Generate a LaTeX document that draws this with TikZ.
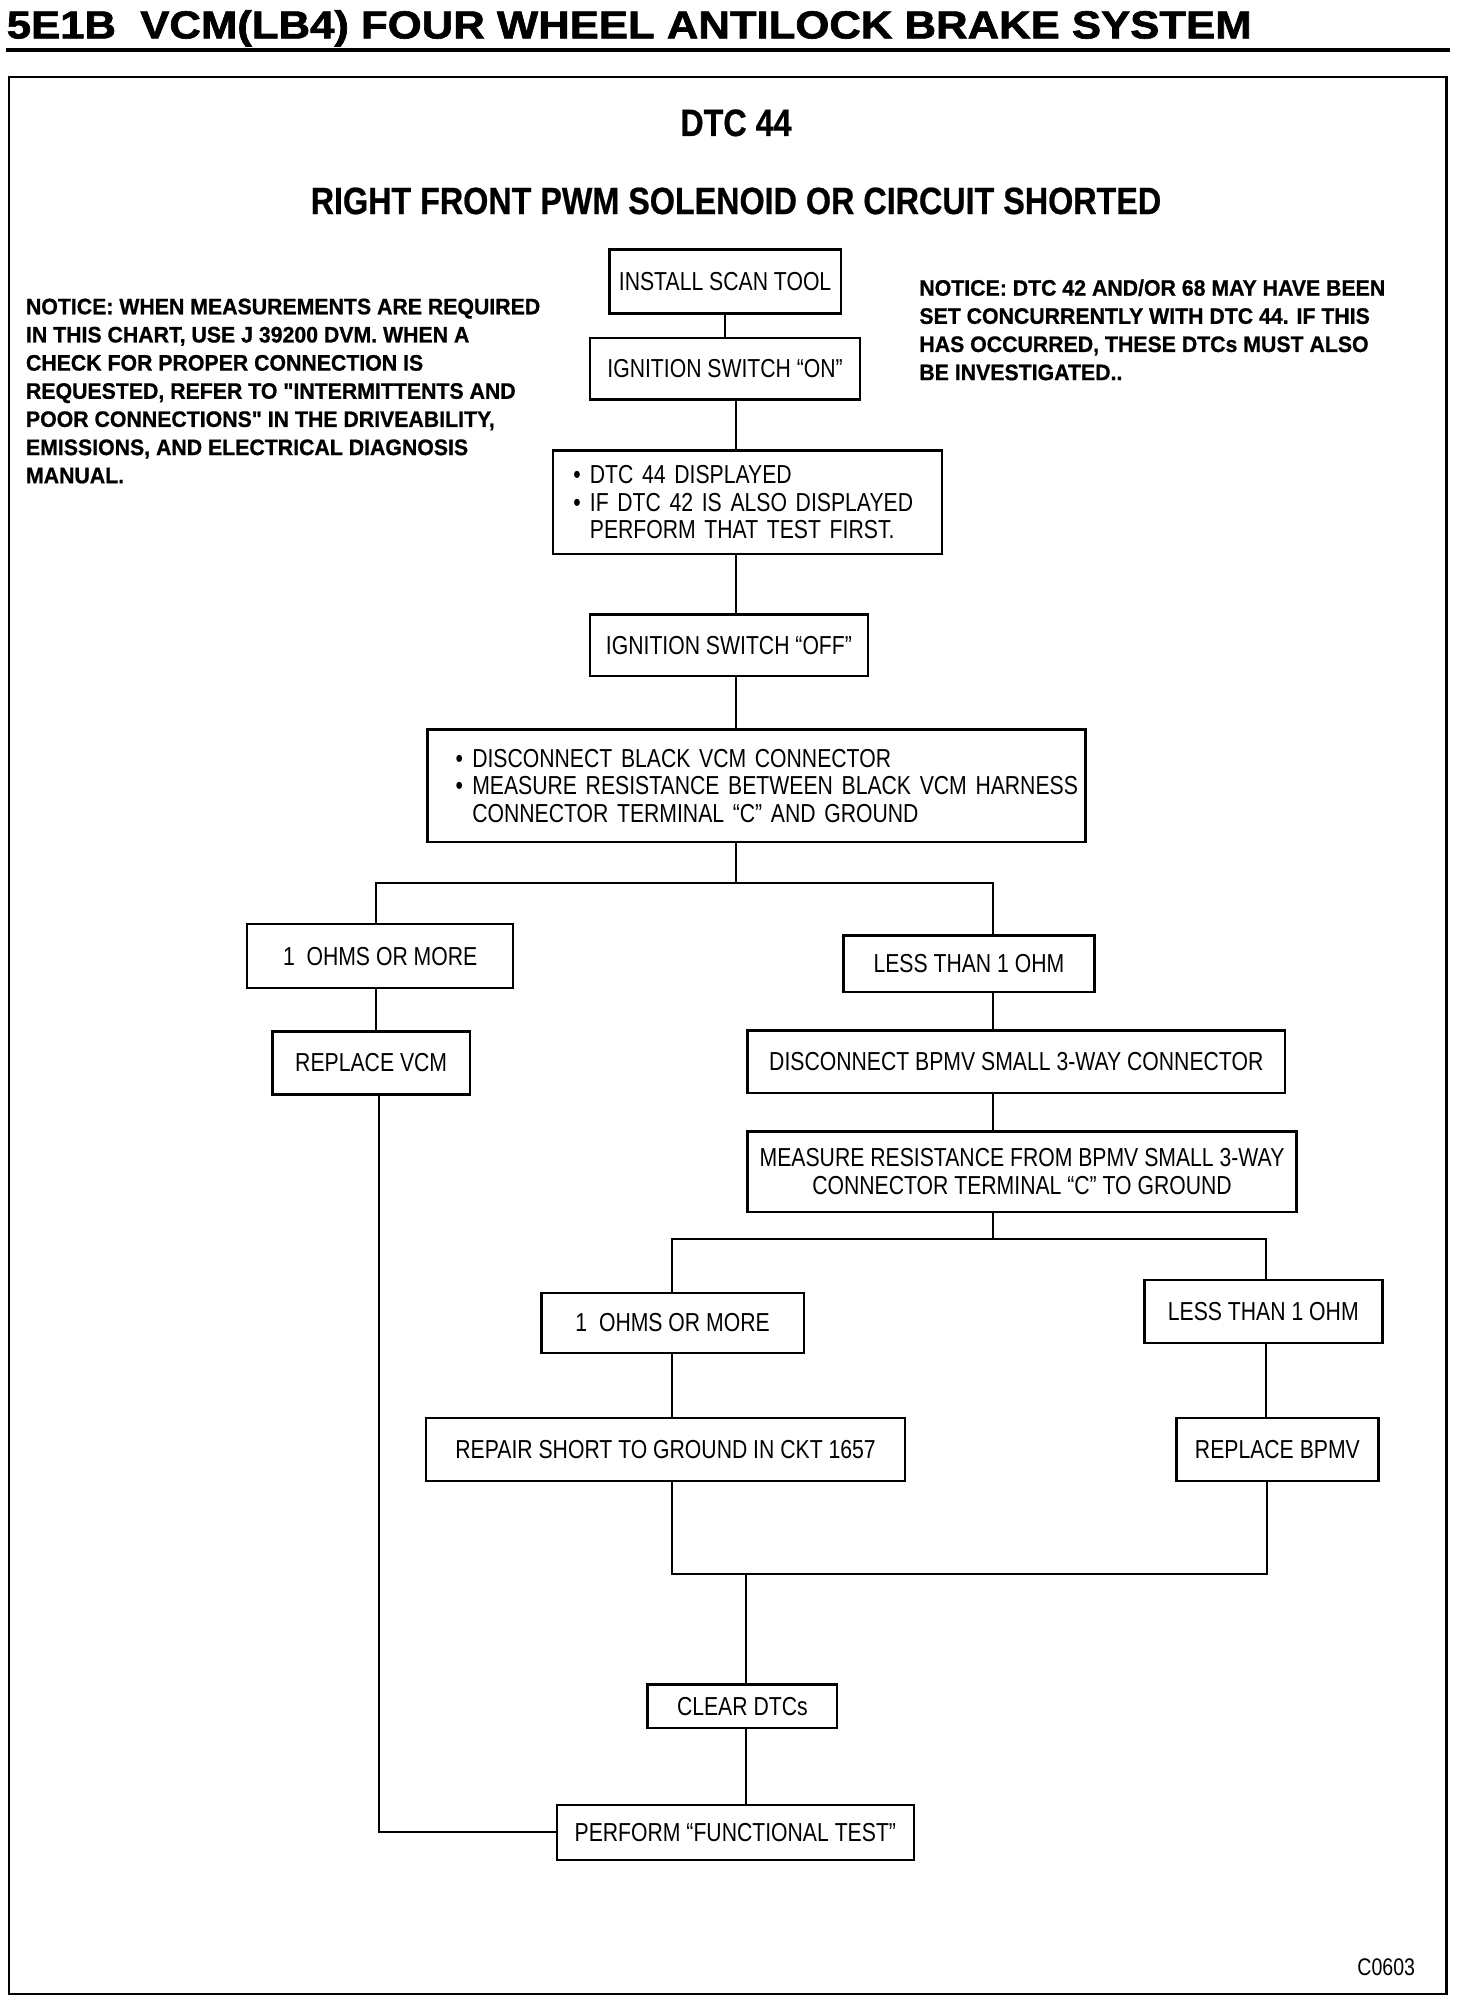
\documentclass[tikz,border=0pt]{standalone}
\usepackage{fontspec}
\usepackage{graphicx}
\setmainfont{Liberation Sans}
\newfontfamily\cond[FakeStretch=0.815]{Liberation Sans}
\newfontfamily\notef[FakeStretch=0.95,FakeBold=0.8]{Liberation Sans Bold}
\newfontfamily\headc[FakeStretch=0.85,FakeBold=0.6]{Liberation Sans Bold}
\newfontfamily\headf[FakeBold=1.6]{Liberation Sans Bold}
\newcommand\bul[1]{\hspace*{#1}\makebox[8.3pt][l]{•}}
\newcommand\ind[1]{\hspace*{#1}\hspace*{8.3pt}}
\begin{document}
\begin{tikzpicture}[x=0.64pt,y=-0.64pt,
  box/.style={draw,line width=1.2pt,inner sep=0pt,font=\cond\fontsize{13}{13.8}\selectfont,align=center},
  lbox/.style={box,inner xsep=0pt,align=left},
  conn/.style={line width=1pt},
  note/.style={anchor=north west,inner sep=0pt,align=left,font=\notef\fontsize{11.2}{14.08}\selectfont},
  head/.style={inner sep=0pt,font=\headc\fontsize{19}{20}\selectfont}]
\useasboundingbox (0,0) rectangle (1150,1561);
\fill[white] (0,0) rectangle (1150,1561);
% title
\node[anchor=base west,inner sep=0pt] (title) at (5,30)
  {\scalebox{1.12}[1]{\headf\fontsize{19.5}{20}\selectfont 5E1B\ \ VCM(LB4) FOUR WHEEL ANTILOCK BRAKE SYSTEM}};
\draw[line width=2.2pt] (5,39) -- (1133,39);
% frame
\draw[line width=1.3pt] (7,60) rectangle (1130,1558);
% headings
\node[head] (dtc) at (575,96) {DTC 44};
\node[head] (rf) at (575,157) {RIGHT FRONT PWM SOLENOID OR CIRCUIT SHORTED};
% notices
\node[note] (noteL) at (20,233) {NOTICE: WHEN MEASUREMENTS ARE REQUIRED\\
IN THIS CHART, USE J 39200 DVM. WHEN A\\
CHECK FOR PROPER CONNECTION IS\\
REQUESTED, REFER TO "INTERMITTENTS AND\\
POOR CONNECTIONS" IN THE DRIVEABILITY,\\
EMISSIONS, AND ELECTRICAL DIAGNOSIS\\
MANUAL.};
\node[note] (noteR) at (718,218) {NOTICE: DTC 42 AND/OR 68 MAY HAVE BEEN\\
SET CONCURRENTLY WITH DTC 44. IF THIS\\
HAS OCCURRED, THESE DTCs MUST ALSO\\
BE INVESTIGATED..};
% boxes
\node[box,minimum width=115.8pt,minimum height=32pt] (install) at (566.5,220) {INSTALL SCAN TOOL};
\node[box,minimum width=135pt,minimum height=30.7pt] (ignon) at (566.5,288) {IGNITION SWITCH “ON”};
\node[lbox,minimum height=51.8pt,text width=194.6pt] (dtcbox) at (584,392.5)
  {\bul{10.2pt}DTC 44 DISPLAYED\\ \bul{10.2pt}IF DTC 42 IS ALSO DISPLAYED\\ \ind{10.2pt}PERFORM THAT TEST FIRST.};
\node[box,minimum width=138.9pt,minimum height=30.7pt] (ignoff) at (569.5,504) {IGNITION SWITCH “OFF”};
\node[lbox,minimum height=56.3pt,text width=329pt] (disc) at (591,614)
  {\bul{14.1pt}DISCONNECT BLACK VCM CONNECTOR\\ \bul{14.1pt}MEASURE RESISTANCE BETWEEN BLACK VCM HARNESS\\ \ind{14.1pt}CONNECTOR TERMINAL “C” AND GROUND};
\node[box,minimum width=133pt,minimum height=32pt] (ohm1) at (297,747) {1\ \ OHMS OR MORE};
\node[box,minimum width=125.4pt,minimum height=28.2pt] (less1) at (757,753) {LESS THAN 1 OHM};
\node[box,minimum width=98.6pt,minimum height=31.4pt] (repvcm) at (290,830.5) {REPLACE VCM};
\node[box,minimum width=268.8pt,minimum height=31.4pt] (discbpmv) at (794,829.5) {DISCONNECT BPMV SMALL 3-WAY CONNECTOR};
\node[box,minimum width=274.6pt,minimum height=40.3pt] (meas) at (798.5,915.5) {MEASURE RESISTANCE FROM BPMV SMALL 3-WAY\\ CONNECTOR TERMINAL “C” TO GROUND};
\node[box,minimum width=131.2pt,minimum height=30pt] (ohm2) at (525.5,1033.5) {1\ \ OHMS OR MORE};
\node[box,minimum width=119pt,minimum height=31.4pt] (less2) at (987,1024.5) {LESS THAN 1 OHM};
\node[box,minimum width=239.4pt,minimum height=31.4pt] (repair) at (520,1132.5) {REPAIR SHORT TO GROUND IN CKT 1657};
\node[box,minimum width=101pt,minimum height=31.4pt] (repbpmv) at (998,1132.5) {REPLACE BPMV};
\node[box,minimum width=94.7pt,minimum height=21.8pt] (clear) at (580,1333) {CLEAR DTCs};
\node[box,minimum width=178.6pt,minimum height=27.5pt] (perform) at (574.5,1431.5) {PERFORM “FUNCTIONAL TEST”};
\node[inner sep=0pt,font=\cond\fontsize{12}{13}\selectfont] (code) at (1083,1537) {C0603};
% connectors
\coordinate (sp) at (575,0);
\draw[conn] (install) -- (ignon);
\draw[conn] (ignon.south -| sp) -- (dtcbox.north -| sp);
\draw[conn] (dtcbox.south -| sp) -- (ignoff.north -| sp);
\draw[conn] (ignoff.south -| sp) -- (disc.north -| sp);
\coordinate (b1) at (575,690);
\coordinate (b1l) at (294,690);
\coordinate (b1r) at (776,690);
\draw[conn] (disc.south -| sp) -- (b1);
\draw[conn] (ohm1.north -| b1l) -- (b1l) -- (b1r) -- (less1.north -| b1r);
\draw[conn] (ohm1.south -| b1l) -- (repvcm.north -| b1l);
\draw[conn] (less1.south -| b1r) -- (discbpmv.north -| b1r);
\draw[conn] (discbpmv.south -| b1r) -- (meas.north -| b1r);
\coordinate (b2) at (776,968);
\coordinate (b2l) at (525,968);
\coordinate (b2r) at (989,968);
\draw[conn] (meas.south -| b2) -- (b2);
\draw[conn] (ohm2.north -| b2l) -- (b2l) -- (b2r) -- (less2.north -| b2r);
\draw[conn] (ohm2.south -| b2l) -- (repair.north -| b2l);
\draw[conn] (less2.south -| b2r) -- (repbpmv.north -| b2r);
\coordinate (m1) at (525,1230);
\coordinate (m2) at (990,1230);
\coordinate (m3) at (583,1230);
\draw[conn] (repair.south -| m1) -- (m1) -- (m2) -- (repbpmv.south -| m2);
\draw[conn] (m3) -- (clear.north -| m3);
\draw[conn] (clear.south -| m3) -- (perform.north -| m3);
\coordinate (lv) at (296,1431.5);
\draw[conn] (repvcm.south -| lv) -- (lv) -- (perform.west);
\end{tikzpicture}
\end{document}
